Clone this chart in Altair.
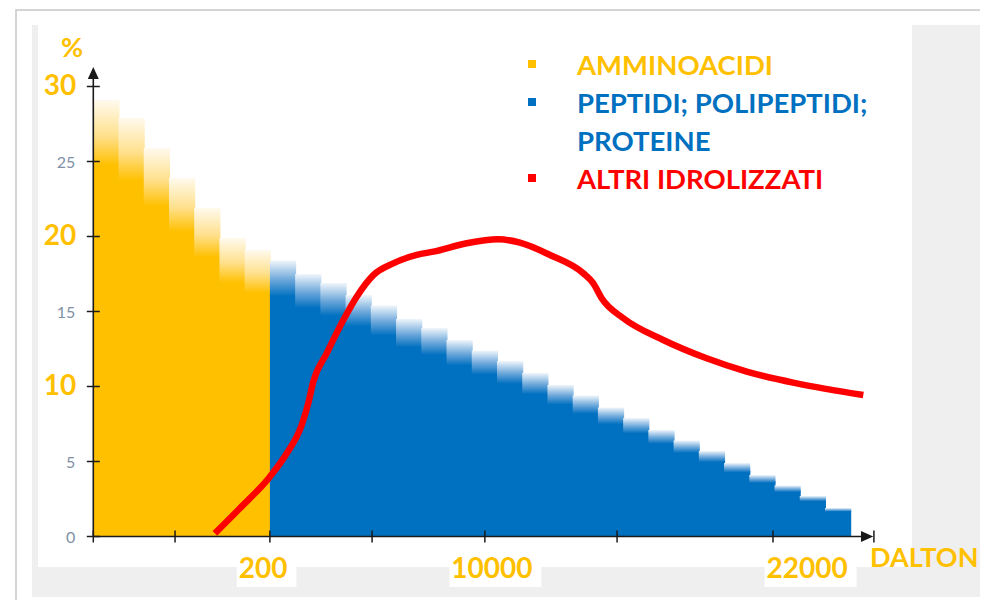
import altair as alt
import pandas as pd

# ---------------- data ----------------
amino_tops = [29.1, 27.9, 25.9, 23.9, 21.9, 19.9, 19.1]
peptide_tops = [18.4, 17.5, 16.9, 16.1, 15.4, 14.5, 13.9, 13.1, 12.4, 11.7, 10.9, 10.1,
                9.4, 8.6, 7.9, 7.1, 6.4, 5.7, 4.9, 4.1, 3.4, 2.7, 1.9]

curve_x = [4.82, 5.81, 7.00, 7.67, 8.26, 8.52, 8.72, 9.25, 9.91, 10.44, 11.10, 11.89,
           12.82, 13.48, 14.80, 16.05, 16.91, 18.10, 19.42, 19.82, 20.15, 21.01, 22.59,
           24.31, 25.90, 27.88, 30.52]
curve_y = [0.21, 1.88, 3.99, 5.55, 7.43, 8.88, 10.32, 12.21, 14.43, 15.99, 17.43, 18.21,
           18.77, 18.99, 19.55, 19.81, 19.59, 18.77, 17.55, 16.88, 15.88, 14.55, 13.10,
           11.88, 10.99, 10.21, 9.43]

y_ticks = [0, 5, 10, 15, 20, 25, 30]
y_big_labels = [10, 20, 30]
y_small_labels = [0, 5, 15, 25]
x_tick_pos = [0, 3.24, 7.0, 11.05, 15.52, 20.76, 26.94]
x_labels = ["200", "10000", "22000"]
x_label_pos = [6.73, 15.80, 28.29]

legend_lines = ["AMMINOACIDI", "PEPTIDI; POLIPEPTIDI;", "PROTEINE", "ALTRI IDROLIZZATI"]
legend_line_color = ["#FFC000", "#0070C0", "#0070C0", "#FF0000"]
legend_markers = [0, 1, 3]  # lines that carry a square marker

# ---------------- styling / layout ----------------
ORANGE = "#FFC000"
BLUE = "#0070C0"
RED = "#FF0000"
AXIS = "#1a1a1a"
SMALL_LBL = "#8090a8"
FONT = "Lato"

W, H = 874, 542
PXU, PYU = 25.23, 15.0          # pixels per data unit
X0, Y0 = 55.3, 511.5            # pixel position of the data origin in the view
xdom = [-X0 / PXU, (W - X0) / PXU]
ydom = [-(H - Y0) / PYU, Y0 / PYU]
xs = alt.Scale(domain=xdom, nice=False, zero=False)
ys = alt.Scale(domain=ydom, nice=False, zero=False)

tops = amino_tops + peptide_tops
bars = pd.DataFrame({
    "start": list(range(len(tops))),
    "end": [i + 1 for i in range(len(tops))],
    "top": tops,
    "series": ["AMMINOACIDI"] * len(amino_tops) + ["PEPTIDI"] * len(peptide_tops),
})
fade = {"AMMINOACIDI": 0.15, "PEPTIDI": 0.13}
bars["solid"] = [t * (1 - fade[s]) for t, s in zip(bars["top"], bars["series"])]
bars["zero"] = 0.0
# tiny overlaps so that adjacent rectangles leave no anti-aliasing seams
bars["end_o"] = bars["end"] + 0.04
bars["solid_o"] = bars["solid"] + 0.1


def grad(light, mid, full):
    return {"gradient": "linear", "x1": 0, "x2": 0, "y1": 0, "y2": 1,
            "stops": [{"offset": 0, "color": light},
                      {"offset": 0.55, "color": mid},
                      {"offset": 1, "color": full}]}


def X(f):
    return alt.X(f, type="quantitative", scale=xs, axis=None)


def Y(f):
    return alt.Y(f, type="quantitative", scale=ys, axis=None)


one = pd.DataFrame({"a": [0]})

frame = alt.Chart(one).mark_rect(fill="white", fillOpacity=0, stroke="#c8c8c8", strokeWidth=1.5).encode(
    x=alt.value(-22), x2=alt.value(960), y=alt.value(-15), y2=alt.value(600))
gray_panel = alt.Chart(one).mark_rect(color="#efefef").encode(
    x=alt.value(-6), x2=alt.value(950), y=alt.value(0), y2=alt.value(572))
white_panel = alt.Chart(one).mark_rect(color="white").encode(
    x=alt.value(0), x2=alt.value(W), y=alt.value(0), y2=alt.value(H))

lbl = pd.DataFrame({"label": x_labels, "pos": x_label_pos})
lbl["w"] = [len(s) * 16.2 for s in lbl["label"]]
lbl["b0"] = lbl["pos"] - (lbl["w"] / 2 + 2) / PXU
lbl["b1"] = lbl["pos"] + (lbl["w"] / 2 + 9) / PXU
lbl["zero"] = 0.0
label_boxes = alt.Chart(lbl).mark_rect(color="white").encode(
    x=X("b0"), x2="b1", y=alt.value(H), y2=alt.value(H + 20))

amino = bars[bars["series"] == "AMMINOACIDI"]
pept = bars[bars["series"] == "PEPTIDI"]

amino_solid = alt.Chart(amino).mark_bar(color=ORANGE).encode(x=X("start"), x2="end_o", y=Y("zero"), y2="solid_o")
amino_fade = alt.Chart(amino).mark_bar(color=grad("#fffaee", "#ffe08c", ORANGE)).encode(
    x=X("start"), x2="end_o", y=Y("solid"), y2="top")
pept_solid = alt.Chart(pept).mark_bar(color=BLUE).encode(x=X("start"), x2="end_o", y=Y("zero"), y2="solid_o")
pept_fade = alt.Chart(pept).mark_bar(color=grad("#f0f6fb", "#6aa6da", BLUE)).encode(
    x=X("start"), x2="end_o", y=Y("solid"), y2="top")

curve = pd.DataFrame({"x": curve_x, "y": curve_y})
red_line = alt.Chart(curve).mark_line(color=RED, strokeWidth=6.5, interpolate="monotone",
                                      strokeCap="butt").encode(x=X("x"), y=Y("y"))

# axes drawn as marks
yaxis_df = pd.DataFrame({"x": [0.0], "y": [0.0], "y2": [30.9]})
y_axis = alt.Chart(yaxis_df).mark_rule(color=AXIS, strokeWidth=1.6).encode(x=X("x"), y=Y("y"), y2="y2")
xaxis_df = pd.DataFrame({"x": [0.0], "x2": [30.67], "y": [0.0]})
x_axis = alt.Chart(xaxis_df).mark_rule(color=AXIS, strokeWidth=1.6).encode(x=X("x"), x2="x2", y=Y("y"))

y_arrow = alt.Chart(pd.DataFrame({"x": [0.0], "y": [30.9]})).mark_point(
    shape="M0,-1L0.9,1L-0.9,1Z", filled=True, size=150, color=AXIS, opacity=1).encode(x=X("x"), y=Y("y"))
x_arrow = alt.Chart(pd.DataFrame({"x": [30.67], "y": [0.0]})).mark_point(
    shape="M1,0L-1,-0.9L-1,0.9Z", filled=True, size=150, color=AXIS, opacity=1).encode(x=X("x"), y=Y("y"))
x_end = alt.Chart(pd.DataFrame({"x": [30.94], "y": [0.0]})).mark_tick(
    orient="vertical", size=12, thickness=1.5, color=AXIS, opacity=1).encode(x=X("x"), y=Y("y"))

yt = pd.DataFrame({"v": y_ticks, "x": 0.0})
y_tick_marks = alt.Chart(yt).mark_tick(orient="horizontal", size=13, thickness=1.5, color=AXIS,
                                       opacity=1).encode(x=X("x"), y=Y("v"))
xt = pd.DataFrame({"p": x_tick_pos, "y": 0.0})
x_tick_marks = alt.Chart(xt).mark_tick(orient="vertical", size=12, thickness=1.5, color=AXIS,
                                       opacity=1).encode(x=X("p"), y=Y("y"))

ysl = pd.DataFrame({"v": y_small_labels, "x": 0.0})
ysl["t"] = ysl["v"].astype(str)
y_small = alt.Chart(ysl).mark_text(align="right", baseline="middle", dx=-18, dy=1, fontSize=16,
                                   font=FONT, color=SMALL_LBL).encode(x=X("x"), y=Y("v"), text="t")
ybl = pd.DataFrame({"v": y_big_labels, "x": 0.0})
ybl["t"] = ybl["v"].astype(str)
y_big = alt.Chart(ybl).mark_text(align="right", baseline="middle", dx=-17, fontSize=28, font=FONT,
                                 fontWeight="bold", color=ORANGE).encode(x=X("x"), y=Y("v"), text="t")

x_text = alt.Chart(lbl).mark_text(align="center", baseline="alphabetic", dy=41.5, fontSize=28, font=FONT,
                                  fontWeight="bold", color=ORANGE).encode(x=X("pos"), y=Y("zero"), text="label")

pct = alt.Chart(pd.DataFrame({"t": ["%"]})).mark_text(
    align="center", baseline="alphabetic", fontSize=27, font=FONT, fontWeight="bold", color=ORANGE
).encode(x=alt.value(34), y=alt.value(32), text="t")
dalton = alt.Chart(pd.DataFrame({"t": ["DALTON"]})).mark_text(
    align="left", baseline="alphabetic", fontSize=27, font=FONT, fontWeight="bold", color=ORANGE
).encode(x=alt.value(832), y=alt.value(542), text="t")

legend_layers = []
LEG_X, LEG_Y0, LEG_STEP = 539, 50, 38.0
for i, (t, c) in enumerate(zip(legend_lines, legend_line_color)):
    legend_layers.append(
        alt.Chart(pd.DataFrame({"t": [t]})).mark_text(
            align="left", baseline="alphabetic", fontSize=27.5, font=FONT, fontWeight="bold", color=c
        ).encode(x=alt.value(LEG_X), y=alt.value(LEG_Y0 + i * LEG_STEP), text="t"))
    if i in legend_markers:
        legend_layers.append(
            alt.Chart(pd.DataFrame({"t": [t]})).mark_square(size=64, color=c, opacity=1).encode(
                x=alt.value(LEG_X - 45), y=alt.value(LEG_Y0 + i * LEG_STEP - 11)))

chart = alt.layer(
    frame, gray_panel, white_panel, label_boxes,
    amino_solid, amino_fade, pept_solid, pept_fade,
    red_line,
    y_axis, x_axis, y_arrow, x_arrow, x_end, y_tick_marks, x_tick_marks,
    y_small, y_big, x_text, pct, dalton,
    *legend_layers,
).properties(
    width=W, height=H,
    autosize=alt.AutoSizeParams(type="none"),
    padding={"left": 30, "top": 17, "right": 68, "bottom": 33},
    background="white",
).configure_view(strokeWidth=0)

chart.save("out.html", embed_options={"renderer": "svg", "actions": False})
